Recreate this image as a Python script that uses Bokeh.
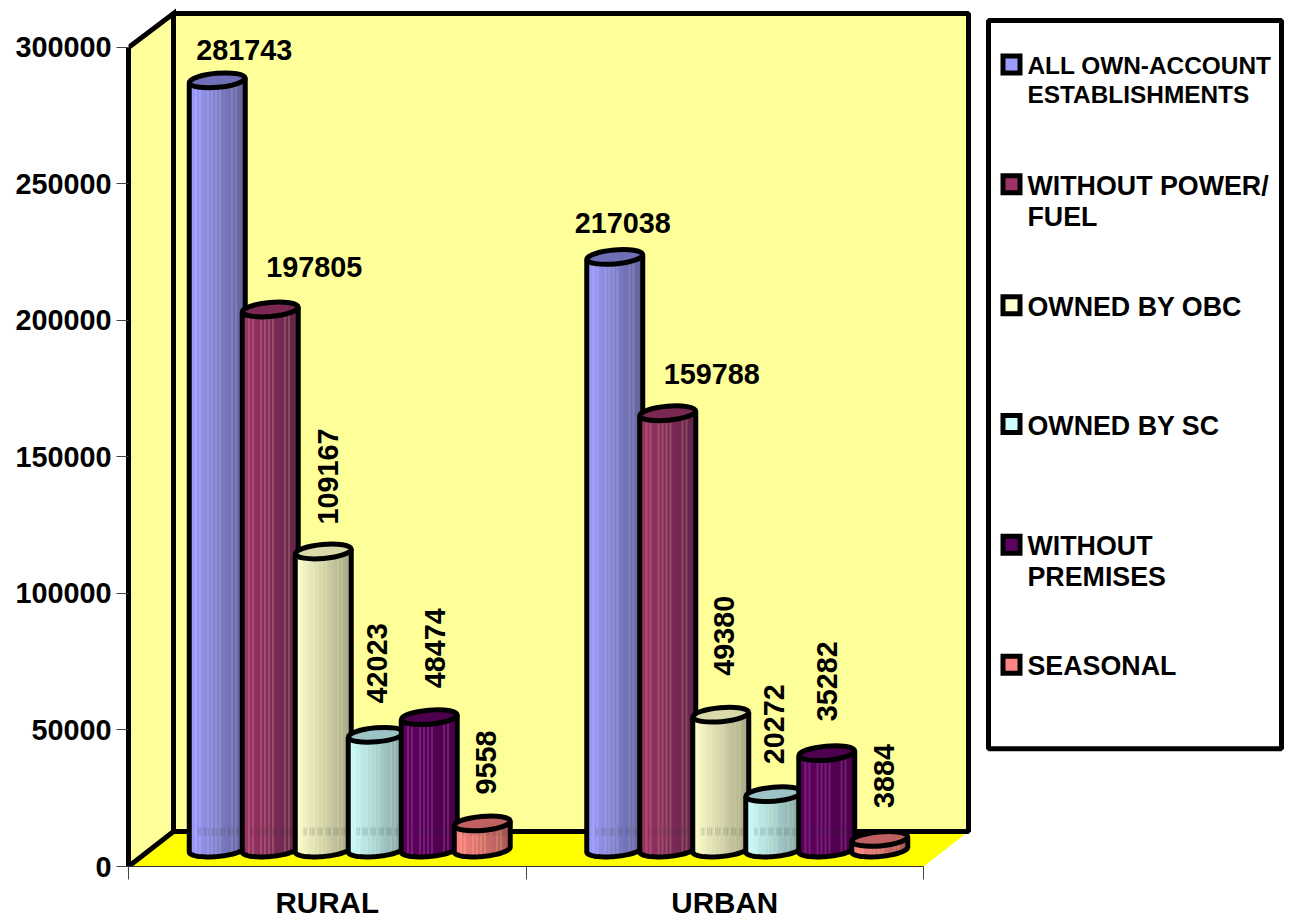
import math
from bokeh.plotting import figure
from bokeh.embed import file_html
from bokeh.resources import INLINE
from bokeh.core.properties import value
from bokeh.models import FixedTicker, NumeralTickFormatter

CATEGORIES = ["RURAL", "URBAN"]
SERIES = [
    ["ALL OWN-ACCOUNT", "ESTABLISHMENTS"],
    ["WITHOUT POWER/", "FUEL"],
    ["OWNED BY OBC"],
    ["OWNED BY SC"],
    ["WITHOUT", "PREMISES"],
    ["SEASONAL"],
]
RURAL = [281743, 197805, 109167, 42023, 48474, 9558]
URBAN = [217038, 159788, 49380, 20272, 35282, 3884]
Y_TICKS = [0, 50000, 100000, 150000, 200000, 250000, 300000]

# colours: left edge, right edge, top cap
LEFT = ["#9c9cff", "#9c3266", "#ffffd0", "#ccffff", "#600060", "#ff8484"]
RIGHT = ["#62629a", "#62264a", "#a8a888", "#84a4a4", "#4a0048", "#a85858"]
CAP = ["#6f6fb8", "#7a2852", "#d9d9aa", "#9cc4c6", "#4e004e", "#c06060"]
STREAK_COL = ["#ffffff", "#ffc0a0", "#ffffa0", "#ffffc0", "#c060c0", "#ffe080"]
STREAK_MIX = [0.13, 0.22, 0.15, 0.15, 0.3, 0.2]
STREAK = [3, 5, 9, 11, 13, 15, 21, 23]

# layout, in pixels of the page
PAGE_W, PAGE_H = 1291, 921
AX_L, AX_T, AX_B = 128, 47, 867
CAT_W = 397.5
DEPTH_X, DEPTH_Y = 45, 35
BAR_STEP, BAR_W, CAP_H = 53, 56, 14
TILT = math.radians(5)
FS_AXIS = "28.8px"
FS_CAT = "29.6px"
FS_LEG = ["24.4px", "26.8px", "26.8px", "26.8px", "26.8px", "26.8px"]
LEG_GAP = [29, 31, 31, 31, 31, 31]
OFF = 0
PX_Y = (AX_B - AX_T) / 300000


def px(x):
    return (x - AX_L) / CAT_W


def py(y):
    return (AX_B - y) / PX_Y


p = figure(width=PAGE_W, height=PAGE_H, output_backend="svg", toolbar_location=None,
           x_range=(0, px(OFF + PAGE_W)), y_range=(0, py(OFF)),
           min_border_left=AX_L - OFF, min_border_right=0, min_border_top=0,
           min_border_bottom=OFF + PAGE_H - AX_B, outline_line_color=None,
           background_fill_color="white", border_fill_color="white")
p.grid.visible = False

# floor and walls
fx = [AX_L, AX_L + DEPTH_X, 923 + DEPTH_X, 923]
fy = [AX_B, AX_B - DEPTH_Y, AX_B - DEPTH_Y, AX_B]
p.patch([px(v) for v in fx], [py(v) for v in fy], fill_color="#ffff00", line_color=None)
wx = [AX_L, AX_L + DEPTH_X, AX_L + DEPTH_X, AX_L]
wy = [AX_T, AX_T - 34, AX_B - DEPTH_Y, AX_B]
p.patch([px(v) for v in wx], [py(v) for v in wy], fill_color="#ffff99", line_color="black",
        line_width=5, line_join="miter")
p.quad(left=px(AX_L + DEPTH_X), right=px(923 + DEPTH_X), top=py(AX_T - 34), bottom=py(AX_B - DEPTH_Y),
       fill_color="#ffff99", line_color="black", line_width=5)


def mix(a, b, t):
    ca = [int(a[i:i + 2], 16) for i in (1, 3, 5)]
    cb = [int(b[i:i + 2], 16) for i in (1, 3, 5)]
    return "#%02x%02x%02x" % tuple(round(u + (v - u) * t) for u, v in zip(ca, cb))


a = BAR_W / 2
b = CAP_H / 2
N = 28
BASE = AX_B - 17


def draw_bar(cat, j, v):
    cx = AX_L + (cat + 0.5) * CAT_W + DEPTH_X / 2 + (j - 2.5) * BAR_STEP
    top_px = BASE - v * PX_Y
    sw = BAR_W / N
    xs, tops, bots, cols = [], [], [], []
    for i in range(N):
        dx = -a + (i + 0.5) * sw
        t = i / (N - 1)
        col = mix(LEFT[j], RIGHT[j], t)
        if i in STREAK:
            col = mix(col, STREAK_COL[j], STREAK_MIX[j])
        arc = b * math.sqrt(max(0, 1 - (dx / a) ** 2))
        xs.append(px(cx + dx))
        tops.append(py(top_px - dx * math.tan(TILT)))
        bots.append(py(BASE + arc - dx * math.tan(TILT)))
        cols.append(col)
    p.vbar(x=xs, top=tops, bottom=bots, width=(sw + 0.5) / CAT_W, fill_color=cols, line_color=None)
    # back wall's edge faintly showing through the bar
    wall = AX_B - DEPTH_Y
    if top_px < wall - 8:
        ghost = [xs[i] for i in range(N) if i % 4 != 2 and i > 3]
        p.vbar(x=ghost, top=py(wall - 4), bottom=py(wall + 4), width=1.2 / CAT_W,
               fill_color="#333333", fill_alpha=0.2, line_color=None)
    # outline: sides and lower arc
    ox, oy = [cx - a], [top_px + a * math.tan(TILT)]
    for k in range(41):
        ang = math.pi - math.pi * k / 40
        dx = a * math.cos(ang)
        oy.append(BASE + b * math.sin(ang) - dx * math.tan(TILT))
        ox.append(cx + dx)
    ox.append(cx + a)
    oy.append(top_px - a * math.tan(TILT))
    p.line([px(q) for q in ox], [py(q) for q in oy], line_color="black", line_width=5)
    p.ellipse(x=[px(cx)], y=[py(top_px)], width=BAR_W, height=CAP_H, width_units="screen", height_units="screen",
              angle=TILT, fill_color=CAP[j], line_color="black", line_width=5)
    return cx, top_px


DATA = [RURAL, URBAN]
# where each value label sits relative to the top of its bar, in pixels
LABEL_DX = [[27, 44, 5, 1, 6, 4], [8, 44, 3.5, 0, 0, 4]]
LABEL_DY = [[-30, -43, -75, -71.5, -69, -61], [-34, -39, -79, -70, -72, -63]]
ROTATED = [[False, False, True, True, True, True], [False, False, True, True, True, True]]

for c, vals in enumerate(DATA):
    for j, v in enumerate(vals):
        cx, top_px = draw_bar(c, j, v)
        p.text(x=[px(cx + LABEL_DX[c][j])], y=[py(top_px + LABEL_DY[c][j])], text=[str(v)],
               text_font=value("Liberation Sans"), text_font_style="bold", text_font_size=FS_AXIS,
               text_color="black", text_align="center", text_baseline="middle",
               angle=math.pi / 2 if ROTATED[c][j] else 0)

# legend
p.quad(left=px(988), right=px(1281), top=py(20), bottom=py(749), fill_color="white",
       line_color="black", line_width=5)
LEG_Y = [64, 184, 305, 424, 545, 665]
for j, lines in enumerate(SERIES):
    p.rect(x=[px(1011)], y=[py(LEG_Y[j])], width=17, height=17, width_units="screen", height_units="screen",
           fill_color=LEFT[j], line_color="black", line_width=5, line_join="miter")
    for i, line in enumerate(lines):
        p.text(x=[px(1027)], y=[py(LEG_Y[j] + 1.5 + i * LEG_GAP[j])], text=[line],
               text_font=value("Liberation Sans"), text_font_style="bold", text_font_size=FS_LEG[j],
               text_color="black", text_align="left", text_baseline="middle")

# axes
ya = p.yaxis[0]
ya.ticker = FixedTicker(ticks=Y_TICKS)
ya.formatter = NumeralTickFormatter(format="0")
ya.bounds = (0, 300000)
ya.axis_line_color = "black"
ya.axis_line_width = 5
ya.major_tick_line_color = "#444444"
ya.major_tick_line_width = 1
ya.major_tick_out = 12
ya.major_tick_in = 0
ya.minor_tick_out = 0
ya.minor_tick_in = 0
ya.major_label_standoff = 5
ya.major_label_text_font = "Liberation Sans"
ya.major_label_text_font_style = "bold"
ya.major_label_text_font_size = FS_AXIS
ya.major_label_text_color = "black"

xa = p.xaxis[0]
xa.ticker = FixedTicker(ticks=[0.5, 1.5], minor_ticks=[0, 1, 2])
xa.major_label_overrides = {0.5: CATEGORIES[0], 1.5: CATEGORIES[1]}
xa.bounds = (0, 2)
xa.axis_line_color = "#333333"
xa.axis_line_width = 1
xa.major_tick_out = 0
xa.major_tick_in = 0
xa.minor_tick_out = 13
xa.minor_tick_in = 0
xa.minor_tick_line_color = "#444444"
xa.major_label_standoff = 6
xa.major_label_text_line_height = 0.6
xa.major_label_text_font = "Liberation Sans"
xa.major_label_text_font_style = "bold"
xa.major_label_text_font_size = FS_CAT
xa.major_label_text_color = "black"

open("out.html", "w").write(file_html(p, INLINE))
